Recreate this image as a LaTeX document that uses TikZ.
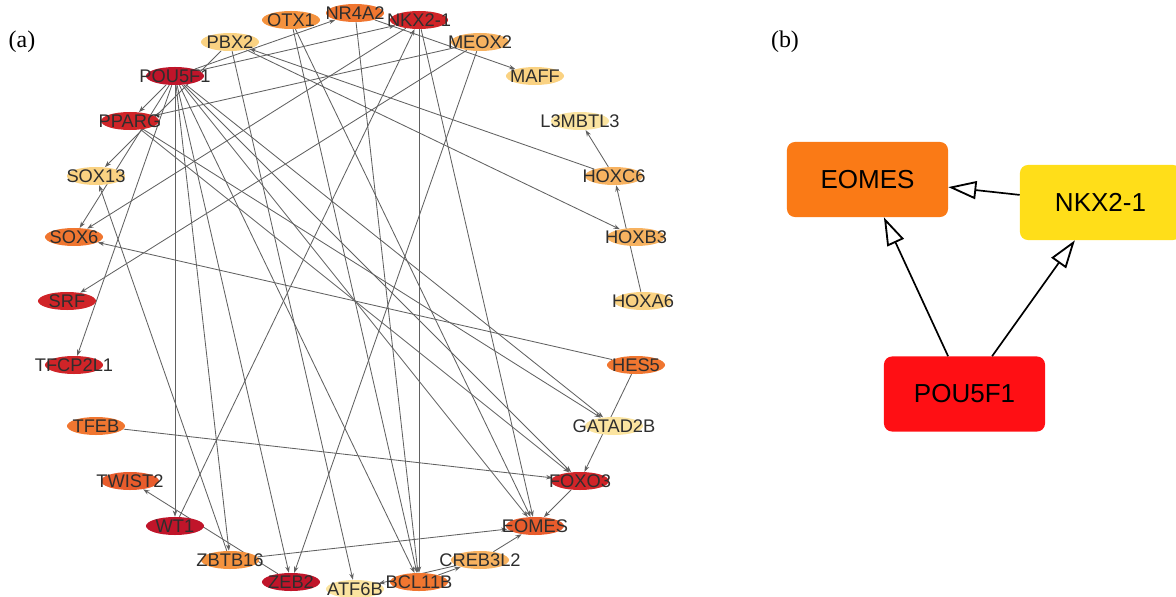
\documentclass[tikz,border=0pt]{standalone}
\usepackage{fontspec}
\setmainfont{Liberation Sans}
\newfontfamily\panelfont{Liberation Serif}
\usepackage{tikz}
\usetikzlibrary{shapes.geometric, arrows.meta, backgrounds}

\definecolor{dred}{RGB}{192,21,42}
\definecolor{red1}{RGB}{208,36,40}
\definecolor{org1}{RGB}{232,92,44}
\definecolor{org2}{RGB}{240,118,48}
\definecolor{org3}{RGB}{244,146,62}
\definecolor{lor}{RGB}{247,178,96}
\definecolor{lyl}{RGB}{250,210,130}
\definecolor{pyl}{RGB}{251,228,160}
\definecolor{eomesfill}{RGB}{250,122,22}
\definecolor{nkxfill}{RGB}{255,222,25}
\definecolor{poufill}{RGB}{255,15,20}

\tikzset{
  gene/.style={ellipse, minimum width=1.45cm, minimum height=0.45cm, inner sep=0pt},
  every label/.style={text=black!82, font=\fontsize{13}{15}\selectfont, inner sep=0pt},
  link/.style={-{Stealth[length=4.5pt,width=3.2pt]}, draw=black!62, line width=0.6pt},
  box/.style={rounded corners=0.2cm, minimum width=4.025cm, minimum height=1.875cm, font=\fontsize{18.5}{20}\selectfont},
  hit/.style={-{Triangle[open, length=0.7cm, width=0.45cm, line width=1.3pt]}, line width=1.2pt},
  panel/.style={font=\panelfont\fontsize{17}{20}\selectfont}
}

\begin{document}
\begin{tikzpicture}[x=0.025cm, y=-0.025cm]
  \useasboundingbox (0,0) rectangle (1176,597);

  % (a) regulatory network
  \node [panel] (lblA) at (22,42) {(a)};

  \node [gene, fill=org2, label=center:NR4A2] (nr4) at (355,13) {};
  \node [gene, fill=red1, label=center:NKX2-1] (nkx) at (419,20) {};
  \node [gene, fill=lor, label=center:MEOX2] (meox) at (480,42) {};
  \node [gene, fill=lyl, label=center:MAFF] (maff) at (535,76) {};
  \node [gene, fill=pyl, label=center:L3MBTL3] (l3m) at (580,121) {};
  \node [gene, fill=lor, label=center:HOXC6] (hoxc) at (614,176) {};
  \node [gene, fill=lor, label=center:HOXB3] (hoxb) at (636,237) {};
  \node [gene, fill=lyl, label=center:HOXA6] (hoxa) at (643,301) {};
  \node [gene, fill=org2, label=center:HES5] (hes) at (636,365) {};
  \node [gene, fill=pyl, label=center:GATAD2B] (gat) at (614,426) {};
  \node [gene, fill=red1, label=center:FOXO3] (foxo) at (580,481) {};
  \node [gene, fill=org1, label=center:EOMES] (eomes) at (535,526) {};
  \node [gene, fill=lor, label=center:CREB3L2] (creb) at (480,560) {};
  \node [gene, fill=org2, label=center:BCL11B] (bcl) at (419,582) {};
  \node [gene, fill=pyl, label=center:ATF6B] (atf) at (355,589) {};
  \node [gene, fill=dred, label=center:ZEB2] (zeb) at (291,582) {};
  \node [gene, fill=org3, label=center:ZBTB16] (zbtb) at (230,560) {};
  \node [gene, fill=dred, label=center:WT1] (wt) at (175,526) {};
  \node [gene, fill=org1, label=center:TWIST2] (twist) at (130,481) {};
  \node [gene, fill=org2, label=center:TFEB] (tfeb) at (96,426) {};
  \node [gene, fill=red1, label=center:TFCP2L1] (tfcp) at (74,365) {};
  \node [gene, fill=red1, label=center:SRF] (srf) at (67,301) {};
  \node [gene, fill=org2, label=center:SOX6] (sox6) at (74,237) {};
  \node [gene, fill=lyl, label=center:SOX13] (sox13) at (96,176) {};
  \node [gene, fill=red1, label=center:PPARG] (pparg) at (130,121) {};
  \node [gene, fill=dred, label=center:POU5F1] (pou) at (175,76) {};
  \node [gene, fill=lyl, label=center:PBX2] (pbx) at (230,42) {};
  \node [gene, fill=org3, label=center:OTX1] (otx) at (291,20) {};

  \begin{scope}[on background layer]
    \draw [link] (pou) -- (nr4);
    \draw [link] (pou) -- (nkx);
    \draw [link] (pou) -- (pparg);
    \draw [link] (pou) -- (sox6);
    \draw [link] (pou) -- (tfcp);
    \draw [link] (pou) -- (wt);
    \draw [link] (pou) -- (zbtb);
    \draw [link] (pou) -- (zeb);
    \draw [link] (pou) -- (bcl);
    \draw [link] (pou) -- (eomes);
    \draw [link] (pou) -- (foxo);
    \draw [link] (pou) -- (gat);
    \draw [link] (pbx) -- (atf);
    \draw [link] (pbx) -- (hoxb);
    \draw [link] (pbx) -- (sox13);
    \draw [link] (hoxc) -- (pbx);
    \draw [link] (otx) -- (bcl);
    \draw [link] (otx) -- (eomes);
    \draw [link] (nr4) -- (bcl);
    \draw [link] (nr4) -- (maff);
    \draw [link] (nkx) -- (bcl);
    \draw [link] (nkx) -- (eomes);
    \draw [link] (nkx) -- (sox6);
    \draw [link] (wt) -- (nkx);
    \draw [link] (meox) -- (srf);
    \draw [link] (meox) -- (zeb);
    \draw [link] (meox) -- (pparg);
    \draw [link] (hoxc) -- (l3m);
    \draw [link] (hoxa) -- (hoxc);
    \draw [link] (hes) -- (sox6);
    \draw [link] (hes) -- (foxo);
    \draw [link] (tfeb) -- (foxo);
    \draw [link] (pparg) -- (foxo);
    \draw [link] (pparg) -- (gat);
    \draw [link] (foxo) -- (eomes);
    \draw [link] (zbtb) -- (eomes);
    \draw [link] (zbtb) -- (sox13);
    \draw [link] (zeb) -- (twist);
    \draw [link] (creb) -- (eomes);
    \draw [link] (creb) -- (atf);
    \draw [link] (bcl) -- (creb);
  \end{scope}

  % (b) core motif
  \node [panel] (lblB) at (785,42) {(b)};

  \node [box, fill=eomesfill] (eomesB) at (867.5,179.5) {EOMES};
  \node [box, fill=nkxfill] (nkxB) at (1100.5,202.5) {NKX2-1};
  \node [box, fill=poufill] (pouB) at (964.5,394) {POU5F1};

  \draw [hit] ([xshift=-0.41cm]pouB.north) -- ([xshift=0.41cm]eomesB.south);
  \draw [hit] ([xshift=0.69cm]pouB.north) -- ([xshift=-0.64cm]nkxB.south);
  \draw [hit] ([yshift=0.19cm]nkxB.west) -- ([yshift=-0.19cm]eomesB.east);
\end{tikzpicture}
\end{document}
